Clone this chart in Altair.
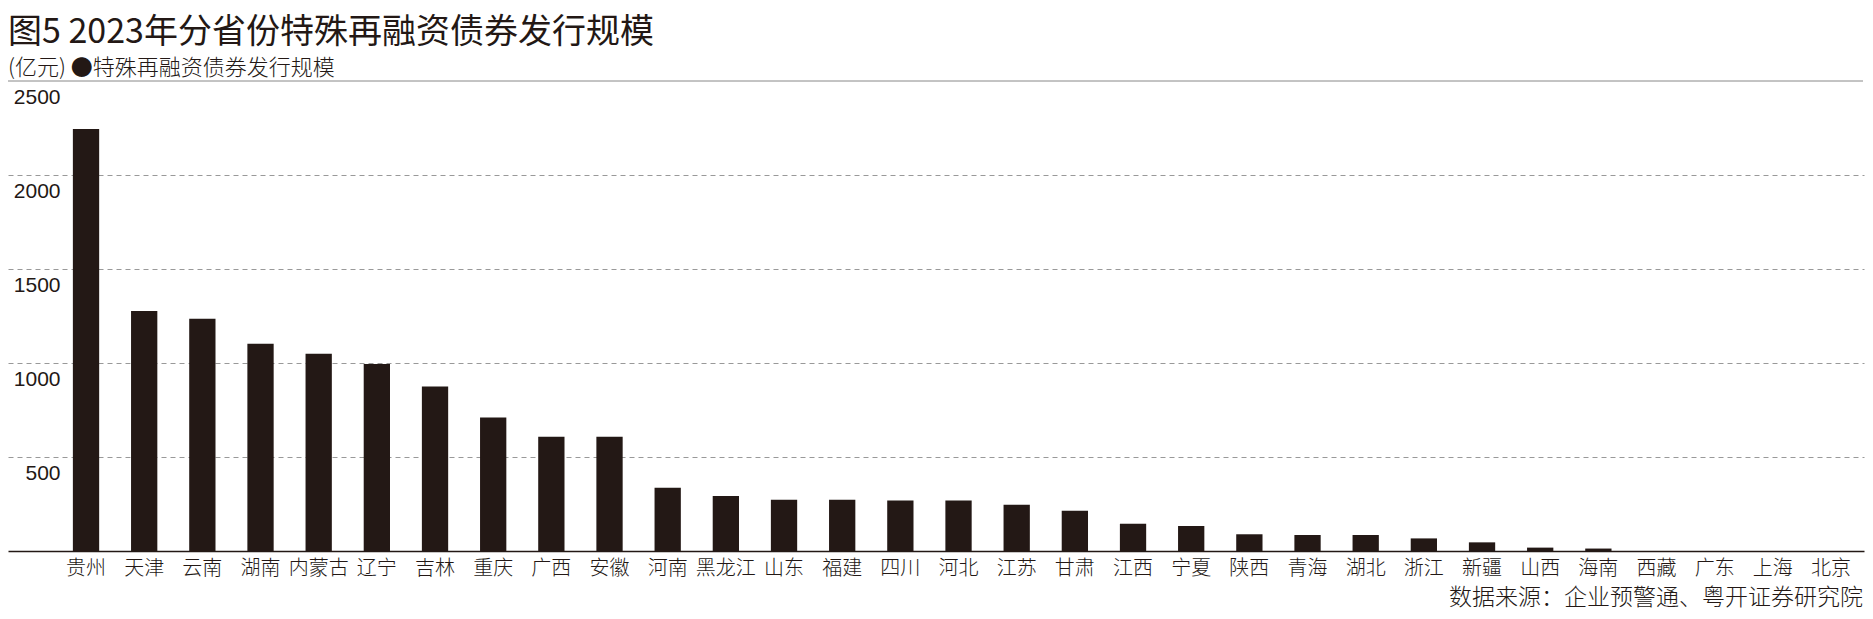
import altair as alt
import pandas as pd

provinces = ["贵州", "天津", "云南", "湖南", "内蒙古", "辽宁", "吉林", "重庆", "广西", "安徽",
             "河南", "黑龙江", "山东", "福建", "四川", "河北", "江苏", "甘肃", "江西", "宁夏",
             "陕西", "青海", "湖北", "浙江", "新疆", "山西", "海南", "西藏", "广东", "上海", "北京"]
values = [2245, 1277, 1235, 1102, 1049, 995, 875, 710, 608, 608,
          337, 292, 273, 273, 268, 268, 246, 214, 145, 133,
          89, 85, 85, 67, 46, 18, 13, 0, 0, 0, 0]
y_ticks = [0, 500, 1000, 1500, 2000, 2500]

title_text = "图5 2023年分省份特殊再融资债券发行规模"
subtitle_text = "(亿元) ●特殊再融资债券发行规模"
source_text = "数据来源：企业预警通、粤开证券研究院"

W, H = 1856, 470
CJK = "Noto Sans CJK SC"
INK = "#231815"

df = pd.DataFrame({"省份": provinces, "规模": values})

bars = alt.Chart(df).mark_bar(color=INK).encode(
    x=alt.X("省份:N", sort=provinces,
            scale=alt.Scale(paddingInner=0.548, paddingOuter=0.728, align=0.766),
            axis=alt.Axis(title=None, labelAngle=0, ticks=False, tickSize=0,
                          labelPadding=7, labelFontSize=20, labelFont=CJK,
                          labelFontWeight=300, labelColor=INK, labelBaseline="top",
                          domain=True, domainColor=INK, domainWidth=1.5, grid=False)),
    y=alt.Y("规模:Q", scale=alt.Scale(domain=[0, 2500], nice=False),
            axis=alt.Axis(title=None, values=y_ticks, format="d", ticks=False, tickSize=0,
                          domain=False, grid=True, gridColor="#999999", gridDash=[5, 4],
                          gridWidth=1,
                          gridOpacity={"condition": {"test": "datum.value == 2500 || datum.value == 0", "value": 0}, "value": 1},
                          labelAlign="right", labelPadding=-52,
                          labelBaseline="top", labelOffset=5, labelFontSize=21,
                          labelFont="Liberation Sans", labelColor=INK,
                          labelExpr="datum.value == 0 ? '' : datum.label")),
)

top_rule = alt.Chart(pd.DataFrame({"v": [2500]})).mark_rule(color="#888888", strokeWidth=1).encode(
    y="v:Q", x=alt.value(-8), x2=alt.value(W - 1)
)

title = alt.Chart(pd.DataFrame({"t": [title_text]})).mark_text(
    align="left", baseline="alphabetic", font=CJK, fontSize=34, color=INK
).encode(text="t:N", x=alt.value(0), y=alt.value(-38))

subtitle = alt.Chart(pd.DataFrame({"t": [subtitle_text]})).mark_text(
    align="left", baseline="alphabetic", font=CJK, fontSize=22, fontWeight=300, color=INK
).encode(text="t:N", x=alt.value(0), y=alt.value(-6))

source = alt.Chart(pd.DataFrame({"t": [source_text]})).mark_text(
    align="right", baseline="alphabetic", font=CJK, fontSize=23, fontWeight=300, color=INK
).encode(text="t:N", x=alt.value(W - 1), y=alt.value(524))

chart = alt.layer(bars, top_rule, title, subtitle, source).properties(
    width=W, height=H,
    autosize=alt.AutoSizeParams(type="none"),
    padding={"left": 0, "top": 73, "right": 1, "bottom": 60},
    background="white",
).configure_view(stroke=None)

chart.save("out.html", embed_options={"renderer": "svg", "actions": False})
